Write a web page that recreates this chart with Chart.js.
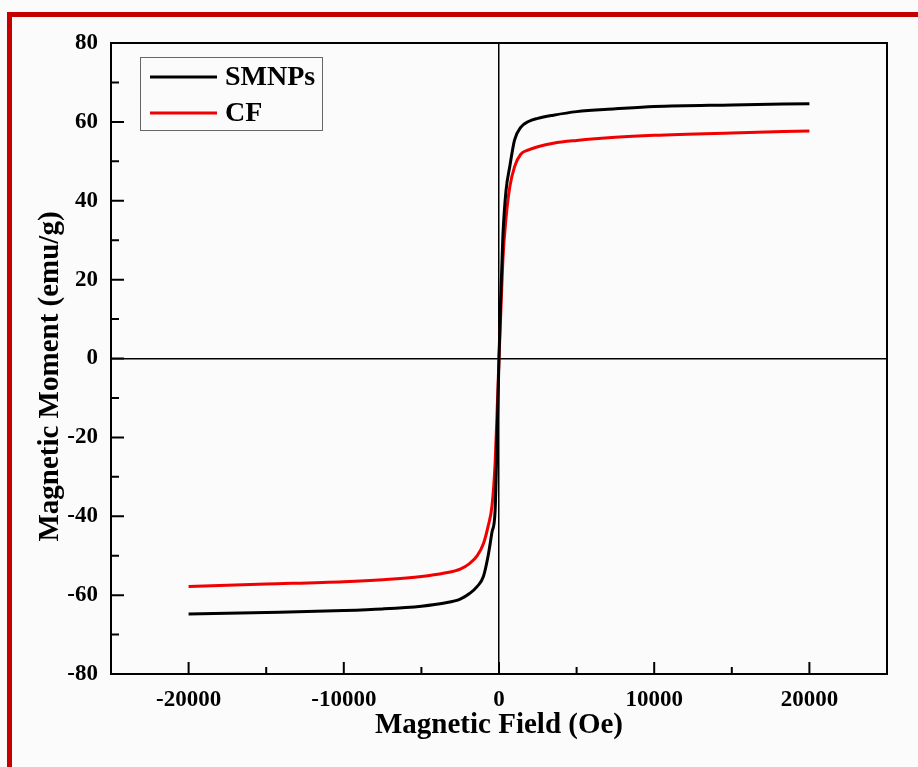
<!DOCTYPE html>
<html>
<head>
<meta charset="utf-8">
<script src="https://cdn.jsdelivr.net/npm/chart.js@4"></script>
<style>
  html, body { margin: 0; padding: 0; background: #fbfbfb; overflow: hidden; }
  #frame { position: absolute; left: 7px; top: 12px; width: 1000px; height: 1000px; border: 5px solid #c40000; }
  #chart { position: absolute; left: 0; top: 0; }
</style>
</head>
<body>
<div id="frame"></div>
<canvas id="chart" width="918" height="767"></canvas>
<script>
// magnetic field (Oe)
const fields = [-20000, -15000, -10000, -7500, -5000, -3500, -2500, -1900, -1400, -1000, -700, -450, -250, -100, 0,
  100, 250, 450, 700, 1000, 1400, 1900, 2500, 3500, 5000, 7500, 10000, 15000, 20000];

// magnetic moment (emu/g)
const smnps = [-64.8, -64.4, -63.9, -63.5, -62.8, -62.0, -61.0, -59.6, -57.8, -55.2, -50.0, -44.0, -38.5, -16, 0,
  14, 31, 42.5, 48.8, 55.4, 58.6, 60.1, 60.9, 61.7, 62.6, 63.3, 63.9, 64.3, 64.6];
const cf = [-57.8, -57.2, -56.6, -56.1, -55.3, -54.4, -53.4, -52.0, -50.0, -46.9, -42.5, -37.3, -26.5, -11, 0,
  10, 25, 35.5, 43.6, 48.6, 51.8, 52.9, 53.7, 54.6, 55.3, 56.1, 56.6, 57.2, 57.7];

const xTicks = [-20000, -10000, 0, 10000, 20000];
const xMinor = [-15000, -5000, 5000, 15000];
const yTicks = [-80, -60, -40, -20, 0, 20, 40, 60, 80];
const yMinor = [-70, -50, -30, -10, 10, 30, 50, 70];

const yTitle = 'Magnetic Moment (emu/g)';
const serif = "'Liberation Serif', 'Times New Roman', serif";

const toPoints = vals => fields.map((f, i) => ({ x: f, y: vals[i] }));

// frame, inward ticks, y title and boxed legend
const decorations = {
  id: 'decorations',
  afterDatasetsDraw(chart) {
    const { ctx, chartArea: a, scales } = chart;
    const xs = scales.x, ys = scales.y;
    ctx.save();
    ctx.strokeStyle = '#000';
    ctx.lineWidth = 2;
    ctx.strokeRect(a.left, a.top, a.right - a.left, a.bottom - a.top);

    ctx.beginPath();
    xTicks.forEach(v => { const p = xs.getPixelForValue(v); ctx.moveTo(p, a.bottom); ctx.lineTo(p, a.bottom - 12); });
    xMinor.forEach(v => { const p = xs.getPixelForValue(v); ctx.moveTo(p, a.bottom); ctx.lineTo(p, a.bottom - 7); });
    yTicks.forEach(v => { const p = ys.getPixelForValue(v); ctx.moveTo(a.left, p); ctx.lineTo(a.left + 13, p); });
    yMinor.forEach(v => { const p = ys.getPixelForValue(v); ctx.moveTo(a.left, p); ctx.lineTo(a.left + 8, p); });
    ctx.stroke();

    // y title sits a little below the centre in the original
    ctx.save();
    ctx.translate(50.5, (a.top + a.bottom) / 2 + 18);
    ctx.rotate(-Math.PI / 2);
    ctx.font = 'bold 29px ' + serif;
    ctx.textAlign = 'center';
    ctx.textBaseline = 'middle';
    ctx.fillStyle = '#000';
    ctx.fillText(yTitle, 0, 0);
    ctx.restore();

    // legend
    const lx = a.left + 29, ly = a.top + 14;
    ctx.lineWidth = 1;
    ctx.strokeStyle = '#666';
    ctx.strokeRect(lx + 0.5, ly + 0.5, 182, 73);
    ctx.font = 'bold 28px ' + serif;
    ctx.textBaseline = 'middle';
    ctx.fillStyle = '#000';
    chart.data.datasets.forEach((ds, i) => {
      const y = ly + 20 + i * 36;
      ctx.strokeStyle = ds.borderColor;
      ctx.lineWidth = 3;
      ctx.beginPath();
      ctx.moveTo(lx + 10, y);
      ctx.lineTo(lx + 77, y);
      ctx.stroke();
      ctx.fillText(ds.label, lx + 85, y + 1);
    });
    ctx.restore();
  }
};

const zeroGrid = c => (c.tick && c.tick.value === 0 ? '#000' : 'rgba(0,0,0,0)');

new Chart(document.getElementById('chart'), {
  type: 'scatter',
  data: {
    datasets: [
      { label: 'SMNPs', data: toPoints(smnps), borderColor: '#000000', borderWidth: 3, showLine: true,
        pointRadius: 0, cubicInterpolationMode: 'monotone' },
      { label: 'CF', data: toPoints(cf), borderColor: '#f00000', borderWidth: 3, showLine: true,
        pointRadius: 0, cubicInterpolationMode: 'monotone' }
    ]
  },
  options: {
    responsive: false,
    animation: false,
    layout: { padding: { left: 0, top: 43, right: 31, bottom: 0 } },
    plugins: { legend: { display: false }, tooltip: { enabled: false } },
    scales: {
      x: {
        type: 'linear', min: -25000, max: 25000,
        afterBuildTicks: s => { s.ticks = xTicks.map(v => ({ value: v })); },
        afterFit: s => { s.height = 93; },
        grid: { color: zeroGrid, lineWidth: 1.5, drawTicks: false },
        border: { display: false },
        ticks: { color: '#000', padding: 12, maxRotation: 0, font: { family: serif, size: 23, weight: 'bold' },
          callback: v => String(v) },
        title: { display: true, text: 'Magnetic Field (Oe)', color: '#000',
          font: { family: serif, size: 29, weight: 'bold' }, padding: { top: 0, bottom: 24 } }
      },
      y: {
        type: 'linear', min: -80, max: 80,
        afterBuildTicks: s => { s.ticks = yTicks.map(v => ({ value: v })); },
        afterFit: s => { s.width = 111; },
        grid: { color: zeroGrid, lineWidth: 1.5, drawTicks: false },
        border: { display: false },
        ticks: { color: '#000', padding: 13, font: { family: serif, size: 23, weight: 'bold' } },
        title: { display: false }
      }
    }
  },
  plugins: [decorations]
});
</script>
</body>
</html>
